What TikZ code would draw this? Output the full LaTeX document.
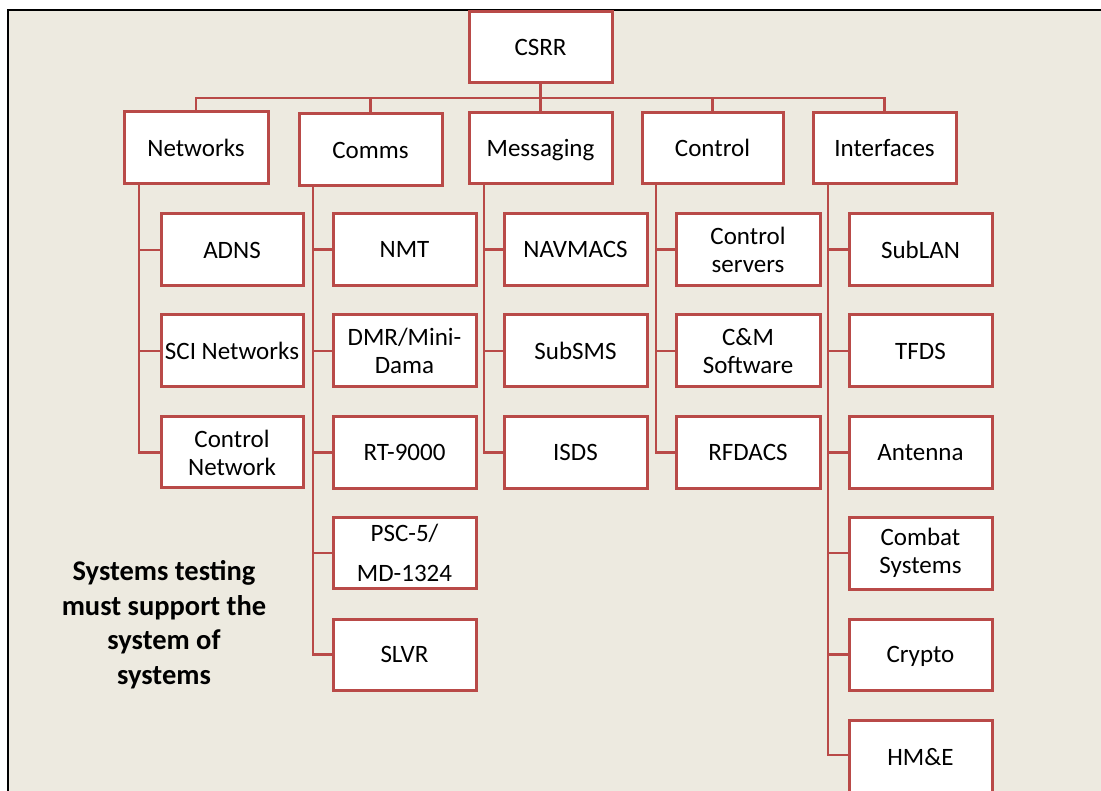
\documentclass[tikz,border=0pt]{standalone}
\usepackage{fontspec}
\setmainfont{Carlito}
\definecolor{bgbeige}{RGB}{237,234,224}
\definecolor{boxred}{RGB}{185,74,72}
\tikzset{
  box/.style={draw=boxred, line width=3pt, fill=white, rectangle, inner sep=0pt,
    minimum width=143pt, minimum height=71pt, align=center,
    font=\fontsize{25}{28}\selectfont},
  nodepth/.style={text depth=0pt},
  conn/.style={draw=boxred, line width=2.6pt},
}
\begin{document}
\begin{tikzpicture}[x=1pt,y=-1pt]
\useasboundingbox (0,0) rectangle (1101,791);
\fill[white] (0,0) rectangle (1101,791);
\fill[bgbeige] (8,10) rectangle (1101,791);
\draw[black, line width=1.6pt] (8,791) -- (8,10) -- (1101,10);

% top level
\node[box] (csrr) at (540.5,47.5) {CSRR};
\node[box, minimum width=144pt, minimum height=72pt] (net) at (196,148) {Networks};
\node[box, minimum height=72pt] (comms) at (370.5,150) {Comms};
\node[box, nodepth] (msg) at (540.5,148) {Messaging};
\node[box, minimum width=141pt] (ctl) at (712.5,148) {Control};
\node[box] (intf) at (884.5,148) {Interfaces};

% Networks children
\node[box, minimum width=142pt, minimum height=72pt] (adns) at (232,250) {ADNS};
\node[box, minimum width=142pt, minimum height=72pt] (sci) at (232,351) {SCI Networks};
\node[box, minimum width=142pt, minimum height=71pt] (cnet) at (232,452.5) {Control\\Network};

% Comms children
\node[box, minimum height=72pt] (nmt) at (404.5,249.5) {NMT};
\node[box, minimum height=72pt] (dmr) at (404.5,351) {DMR/Mini-\\Dama};
\node[box, minimum height=72pt] (rt) at (404.5,452.5) {RT-9000};
\node[box, font=\fontsize{25}{40}\selectfont] (psc) at (404.5,553) {PSC-5/\\MD-1324};
\node[box] (slvr) at (404.5,654.5) {SLVR};

% Messaging children
\node[box, minimum height=72pt] (navm) at (575.5,249.5) {NAVMACS};
\node[box, minimum height=72pt] (subsms) at (575.5,351) {SubSMS};
\node[box, minimum height=72pt] (isds) at (575.5,452.5) {ISDS};

% Control children
\node[box, minimum width=144pt, minimum height=72pt] (csrv) at (748,249.5) {Control\\servers};
\node[box, minimum width=144pt, minimum height=72pt] (cm) at (748,351) {C\&M\\Software};
\node[box, minimum width=144pt, minimum height=72pt] (rfd) at (748,452.5) {RFDACS};

% Interfaces children
\node[box, minimum height=72pt] (sublan) at (920.5,249.5) {SubLAN};
\node[box, minimum height=72pt] (tfds) at (920.5,351) {TFDS};
\node[box, minimum height=72pt] (ant) at (920.5,452.5) {Antenna};
\node[box, minimum height=72pt] (cmb) at (920.5,553) {Combat\\Systems};
\node[box, nodepth] (cry) at (920.5,654.5) {Crypto};
\node[box, minimum height=75pt] (hme) at (920.5,757.5) {HM\&E};

% note
\node[font=\bfseries\fontsize{28.5}{34.5}\selectfont, align=center] (note) at (164,624.5)
  {Systems testing\\must support the\\system of\\systems};

% bus
\coordinate (bus) at (0,98);
\draw[conn] (csrr.south) -- (csrr.south |- bus);
\draw[conn] (net.north) -- (net.north |- bus) -- (intf.north |- bus) -- (intf.north);
\draw[conn] (comms.north) -- (comms.north |- bus);
\draw[conn] (msg.north) -- (msg.north |- bus);
\draw[conn] (ctl.north) -- (ctl.north |- bus);

% trunks
\coordinate (tn) at (139,0);
\coordinate (tc) at (313,0);
\coordinate (tm) at (484,0);
\coordinate (tk) at (656,0);
\coordinate (ti) at (828,0);

\draw[conn] (tn |- net.south) |- (cnet.west);
\draw[conn] (adns.west) -- (adns.west -| tn);
\draw[conn] (sci.west) -- (sci.west -| tn);

\draw[conn] (tc |- comms.south) |- (slvr.west);
\draw[conn] (nmt.west) -- (nmt.west -| tc);
\draw[conn] (dmr.west) -- (dmr.west -| tc);
\draw[conn] (rt.west) -- (rt.west -| tc);
\draw[conn] (psc.west) -- (psc.west -| tc);

\draw[conn] (tm |- msg.south) |- (isds.west);
\draw[conn] (navm.west) -- (navm.west -| tm);
\draw[conn] (subsms.west) -- (subsms.west -| tm);

\draw[conn] (tk |- ctl.south) |- (rfd.west);
\draw[conn] (csrv.west) -- (csrv.west -| tk);
\draw[conn] (cm.west) -- (cm.west -| tk);

\coordinate (hmeb) at (0,755);
\draw[conn] (ti |- intf.south) |- (hme.west |- hmeb);
\draw[conn] (sublan.west) -- (sublan.west -| ti);
\draw[conn] (tfds.west) -- (tfds.west -| ti);
\draw[conn] (ant.west) -- (ant.west -| ti);
\draw[conn] (cmb.west) -- (cmb.west -| ti);
\draw[conn] (cry.west) -- (cry.west -| ti);
\end{tikzpicture}
\end{document}
